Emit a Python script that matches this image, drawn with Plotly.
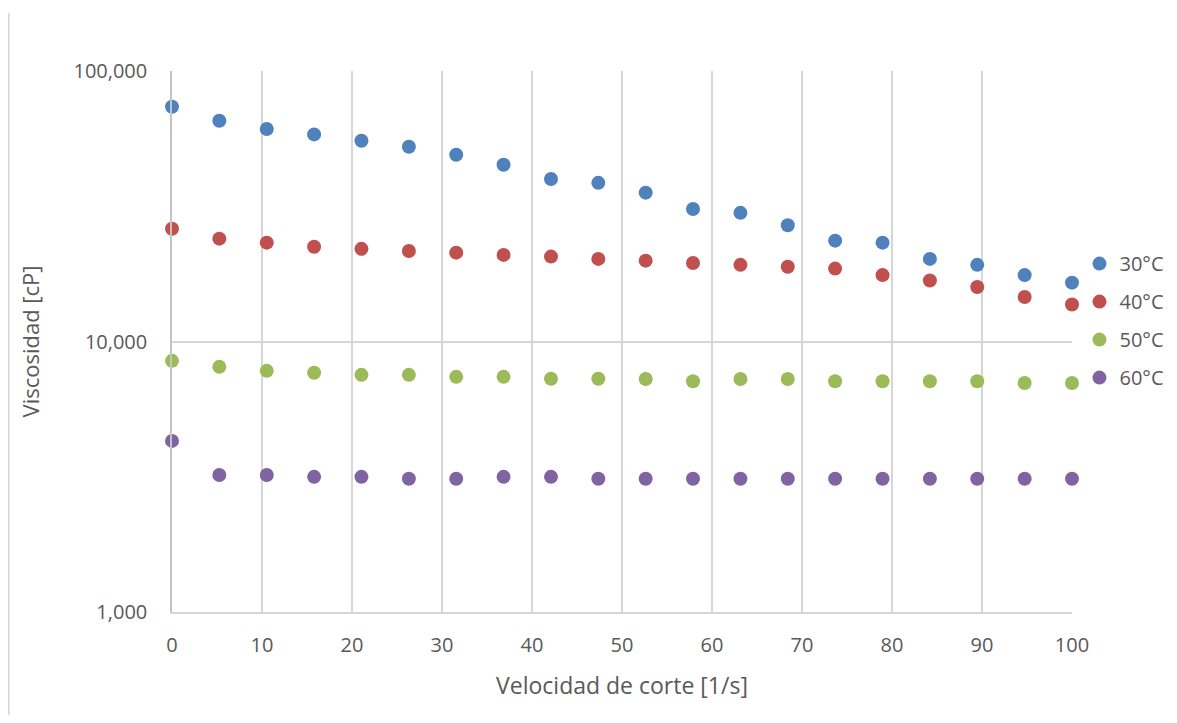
import plotly.graph_objects as go

shear_rate = [0, 5.26, 10.53, 15.79, 21.05, 26.32, 31.58, 36.84, 42.11, 47.37,
              52.63, 57.89, 63.16, 68.42, 73.68, 78.95, 84.21, 89.47, 94.74, 100]

visc_30 = [73800, 65500, 61000, 58300, 55200, 52500, 49000, 45000, 39900, 38600,
           35500, 30900, 29900, 26900, 23600, 23200, 20200, 19200, 17600, 16500]
visc_40 = [26100, 24000, 23200, 22400, 22000, 21600, 21300, 20900, 20600, 20200,
           19900, 19500, 19200, 18900, 18600, 17600, 16800, 15900, 14600, 13700]
visc_50 = [8480, 8060, 7790, 7660, 7530, 7530, 7400, 7400, 7280, 7280,
           7270, 7130, 7270, 7270, 7130, 7130, 7130, 7130, 7020, 7020]
visc_60 = [4290, 3210, 3210, 3160, 3160, 3110, 3110, 3160, 3160, 3110,
           3110, 3110, 3110, 3110, 3110, 3110, 3110, 3110, 3110, 3110]

series_names = ["30°C", "40°C", "50°C", "60°C"]
series_values = [visc_30, visc_40, visc_50, visc_60]
series_colors = ["#4F81BD", "#C0504D", "#9BBB59", "#8064A2"]

x_ticks = [0, 10, 20, 30, 40, 50, 60, 70, 80, 90, 100]
y_ticks = [1000, 10000, 100000]
y_tick_labels = ["1,000", "10,000", "100,000"]

FONT = "Open Sans"
TXT = "#595959"
GRID = "#D6D6D6"

fig = go.Figure()
for i, (name, vals, col) in enumerate(zip(series_names, series_values, series_colors)):
    fig.add_trace(go.Scatter(
        x=shear_rate, y=vals, mode="markers", name=name,
        legendgroup=f"g{i}", cliponaxis=False,
        marker=dict(color=col, size=14, line=dict(width=0)),
    ))

# page body has an 8px margin, so the canvas starts at (8, 8)
fig.update_layout(
    width=1161, height=707,
    margin=dict(l=164, r=97, t=63, b=103, autoexpand=False),
    paper_bgcolor="white", plot_bgcolor="white",
    font=dict(family=FONT, size=20, color=TXT),
    showlegend=True,
    legend=dict(
        x=1.0083, y=0.680, xanchor="left", yanchor="top",
        font=dict(family=FONT, size=20, color=TXT),
        tracegroupgap=9, itemwidth=30, bgcolor="rgba(0,0,0,0)",
    ),
    xaxis=dict(
        range=[0, 100], tickvals=x_ticks, ticktext=[str(v) for v in x_ticks],
        showgrid=True, gridcolor=GRID, gridwidth=1.5,
        zeroline=False, showline=True, linecolor=GRID, linewidth=1.5,
        ticks="", ticklabelstandoff=14, automargin=False,
        tickfont=dict(family=FONT, size=20, color=TXT),
        title=dict(text="Velocidad de corte [1/s]", standoff=21,
                   font=dict(family=FONT, size=23, color=TXT)),
    ),
    yaxis=dict(
        type="log", range=[3, 5], tickvals=y_ticks, ticktext=y_tick_labels,
        showgrid=True, gridcolor=GRID, gridwidth=1.5,
        zeroline=False, showline=True, linecolor="#C4C4C4", linewidth=1.5,
        ticks="", ticklabelstandoff=19, automargin=False,
        tickfont=dict(family=FONT, size=20, color=TXT),
        title=dict(text="Viscosidad [cP]", standoff=28,
                   font=dict(family=FONT, size=22, color=TXT)),
    ),
    shapes=[dict(type="line", xref="paper", yref="paper", layer="below",
                 x0=-163.5 / 900, x1=-163.5 / 900,
                 y0=-(707 - 604) / 541, y1=(604 - 5) / 541,
                 line=dict(color=GRID, width=2))],
)

fig.write_html("out.html")
